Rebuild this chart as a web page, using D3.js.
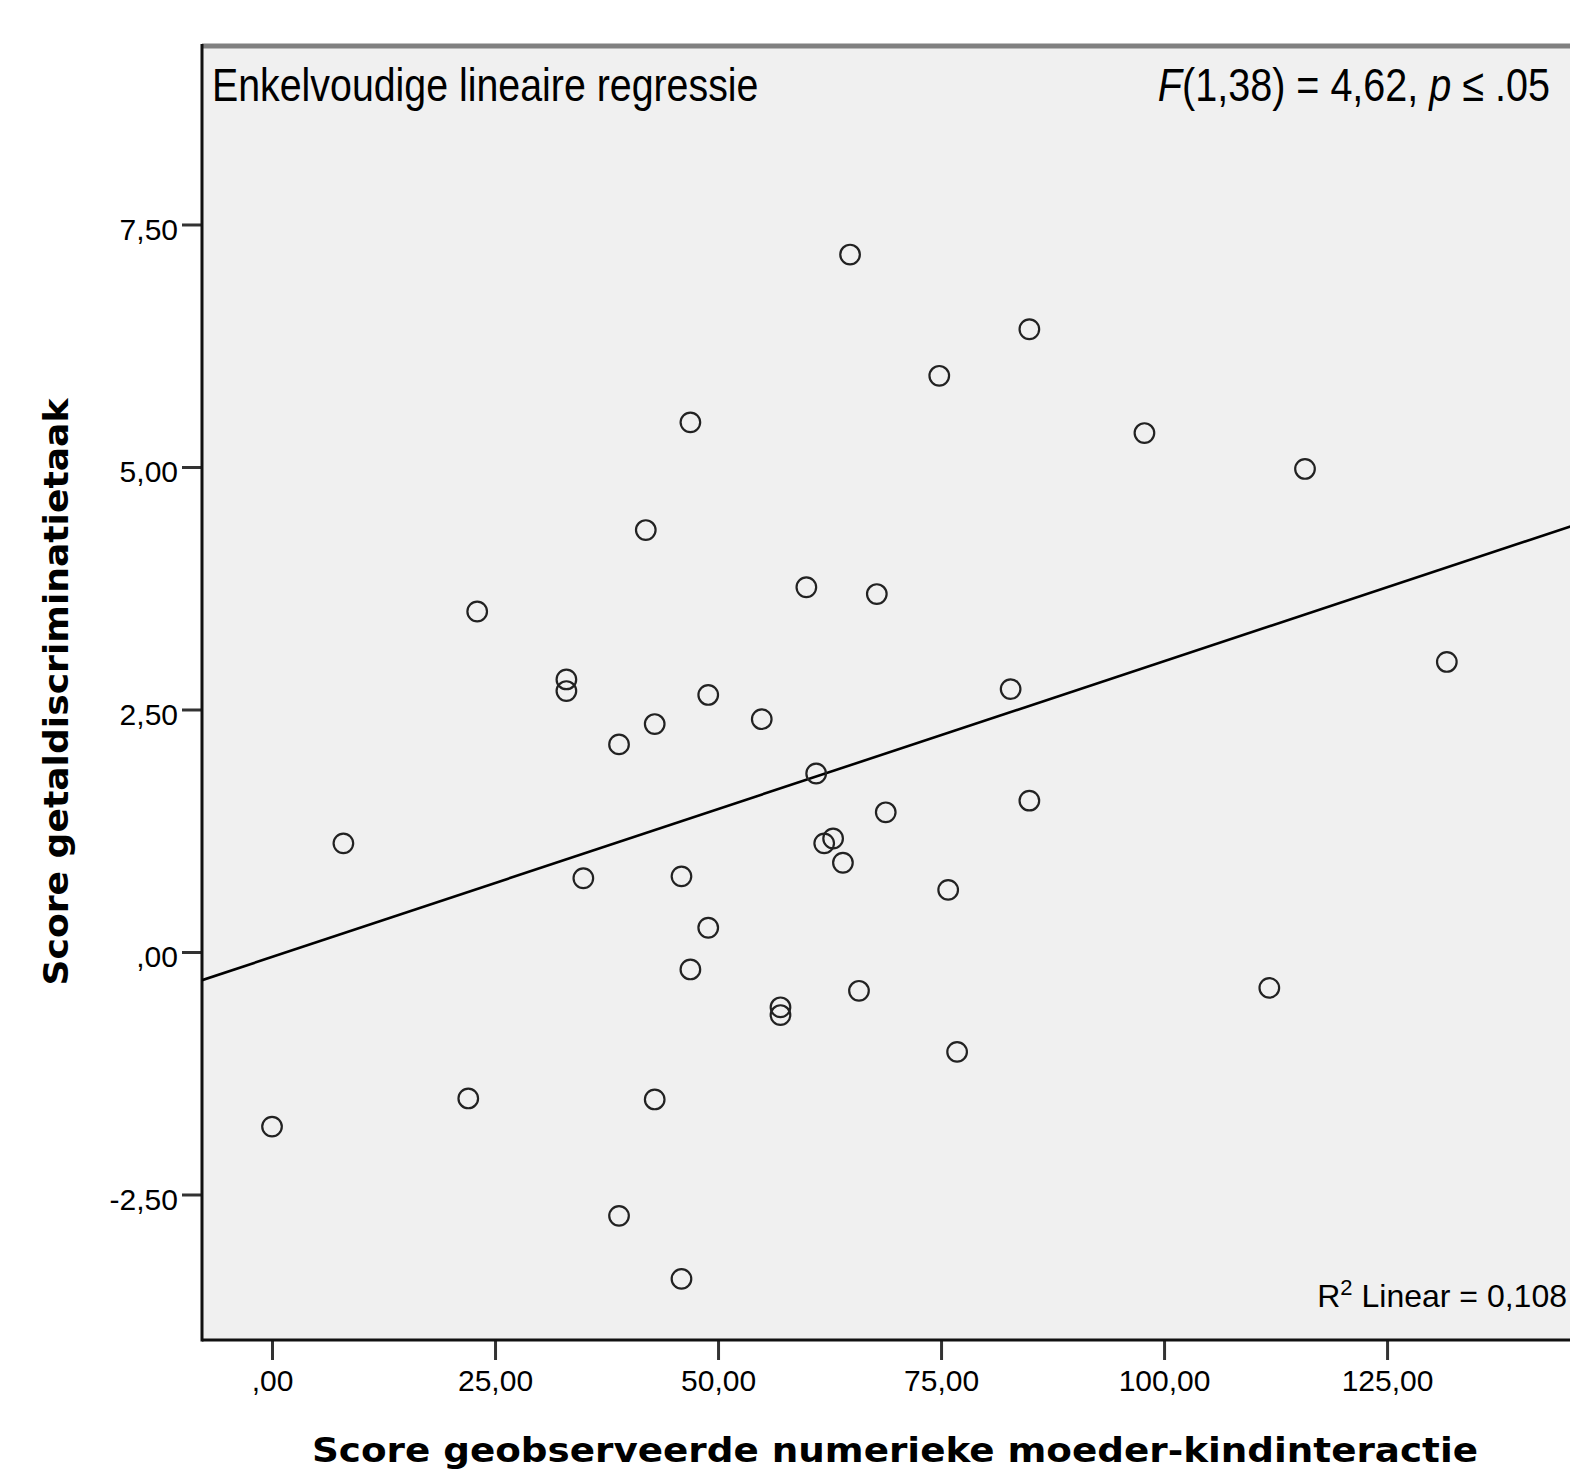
<!DOCTYPE html>
<html>
<head>
<meta charset="utf-8">
<script src="https://cdn.jsdelivr.net/npm/d3@7"></script>
<style>
  body { margin: 0; background: #fff; }
  svg { display: block; }
  .tickLabel { font-family: "Liberation Sans", Arial, sans-serif; font-size: 30px; fill: #000; }
  .axisTitle { font-family: "DejaVu Sans", Verdana, sans-serif; font-weight: bold; font-size: 34px; fill: #000; }
  .note { font-family: "Liberation Sans", Arial, sans-serif; fill: #000; }
</style>
</head>
<body>
<script>
// data
const motherChildScore = [64.8, 84.9, 74.8, 46.9, 97.8, 115.8, 41.9, 59.9, 67.8, 23.0,
  131.7, 33.0, 33.0, 82.8, 48.9, 54.9, 42.9, 38.9, 61.0, 68.8,
  84.9, 8.0, 61.9, 62.9, 64.0, 34.9, 45.9, 75.8, 48.9, 46.9,
  65.8, 111.8, 57.0, 57.0, 76.8, 22.0, 42.9, 0.0, 38.9, 45.9];
const numberDiscScore = [7.19, 6.42, 5.94, 5.46, 5.35, 4.98, 4.35, 3.76, 3.69, 3.51,
  2.99, 2.81, 2.69, 2.71, 2.65, 2.40, 2.35, 2.14, 1.84, 1.44,
  1.56, 1.12, 1.12, 1.17, 0.92, 0.76, 0.78, 0.64, 0.25, -0.18,
  -0.40, -0.37, -0.57, -0.65, -1.03, -1.51, -1.52, -1.80, -2.72, -3.37];

const xTicks = [0, 25, 50, 75, 100, 125];
const xTickLabels = [",00", "25,00", "50,00", "75,00", "100,00", "125,00"];
const yTicks = [-2.5, 0, 2.5, 5, 7.5];
const yTickLabels = ["-2,50", ",00", "2,50", "5,00", "7,50"];

const titleText = "Enkelvoudige lineaire regressie";
const rSquareLabel = "0,108";

/********************************************************/
const svgWidth = 1570;
const svgHeight = 1474;
const plot = { left: 202, top: 46, right: 1590, bottom: 1340 };

const svg = d3.select("body").append("svg")
  .attr("width", svgWidth)
  .attr("height", svgHeight);

const xScale = d3.scaleLinear().domain([-7.85, 147.75]).range([plot.left, plot.right]);
const yScale = d3.scaleLinear().domain([-4.0, 9.34]).range([plot.bottom, plot.top]);

// plot background
svg.append("rect")
  .attr("x", plot.left)
  .attr("y", plot.top)
  .attr("width", plot.right - plot.left)
  .attr("height", plot.bottom - plot.top)
  .attr("fill", "#f0f0f0");

svg.append("clipPath").attr("id", "plotClip")
  .append("rect")
  .attr("x", plot.left)
  .attr("y", plot.top)
  .attr("width", plot.right - plot.left)
  .attr("height", plot.bottom - plot.top);

/********************************************************/
// axes
const leftAxis = d3.axisLeft(yScale)
  .tickValues(yTicks)
  .tickSize(20)
  .tickPadding(4)
  .tickFormat((d, i) => yTickLabels[i]);

const bottomAxis = d3.axisBottom(xScale)
  .tickValues(xTicks)
  .tickSize(20)
  .tickPadding(8)
  .tickFormat((d, i) => xTickLabels[i]);

const yAxisG = svg.append("g")
  .attr("transform", `translate(${plot.left}, 0)`)
  .call(leftAxis);
yAxisG.select(".domain").remove();
yAxisG.selectAll(".tick line").attr("stroke", "#333").attr("stroke-width", 3);
yAxisG.selectAll(".tick text")
  .attr("class", "tickLabel")
  .attr("dy", "0.5em");

const xAxisG = svg.append("g")
  .attr("transform", `translate(0, ${plot.bottom})`)
  .call(bottomAxis);
xAxisG.select(".domain").remove();
xAxisG.selectAll(".tick line").attr("stroke", "#333").attr("stroke-width", 3);
xAxisG.selectAll(".tick text")
  .attr("class", "tickLabel")
  .attr("dy", "0.75em");

// frame
svg.append("line")
  .attr("x1", plot.left).attr("x2", plot.right)
  .attr("y1", plot.top).attr("y2", plot.top)
  .attr("stroke", "#808080").attr("stroke-width", 5);
svg.append("line")
  .attr("x1", plot.left).attr("x2", plot.left)
  .attr("y1", plot.top - 2).attr("y2", plot.bottom + 1.5)
  .attr("stroke", "#111").attr("stroke-width", 3);
svg.append("line")
  .attr("x1", plot.left).attr("x2", plot.right)
  .attr("y1", plot.bottom).attr("y2", plot.bottom)
  .attr("stroke", "#111").attr("stroke-width", 3);

/********************************************************/
// regression line (least squares)
const n = motherChildScore.length;
const meanX = d3.mean(motherChildScore);
const meanY = d3.mean(numberDiscScore);
let sxy = 0, sxx = 0;
for (let i = 0; i < n; i++) {
  sxy += (motherChildScore[i] - meanX) * (numberDiscScore[i] - meanY);
  sxx += (motherChildScore[i] - meanX) ** 2;
}
const slope = sxy / sxx;
const intercept = meanY - slope * meanX;
const xDom = xScale.domain();

svg.append("g").attr("clip-path", "url(#plotClip)")
  .append("line")
  .attr("x1", xScale(xDom[0])).attr("y1", yScale(intercept + slope * xDom[0]))
  .attr("x2", xScale(xDom[1])).attr("y2", yScale(intercept + slope * xDom[1]))
  .attr("stroke", "#000")
  .attr("stroke-width", 2.6);

// points
svg.append("g")
  .selectAll("circle")
  .data(motherChildScore)
  .enter()
  .append("circle")
  .attr("cx", (d) => xScale(d))
  .attr("cy", (d, i) => yScale(numberDiscScore[i]))
  .attr("r", 9.8)
  .attr("fill", "none")
  .attr("stroke", "#222")
  .attr("stroke-width", 2.2);

/********************************************************/
// texts
svg.append("text")
  .attr("class", "note")
  .attr("font-size", "46px")
  .attr("transform", "translate(212, 101) scale(0.855, 1)")
  .text(titleText);

const fText = svg.append("text")
  .attr("class", "note")
  .attr("font-size", "46px")
  .attr("text-anchor", "end")
  .attr("transform", "translate(1550, 101) scale(0.86, 1)");
fText.append("tspan").attr("font-style", "italic").text("F");
fText.append("tspan").text("(1,38) = 4,62, ");
fText.append("tspan").attr("font-style", "italic").text("p");
fText.append("tspan").text(" \u2264 .05");

const rText = svg.append("text")
  .attr("class", "note")
  .attr("font-size", "32px")
  .attr("text-anchor", "end")
  .attr("x", 1567)
  .attr("y", 1307);
rText.append("tspan").text("R");
rText.append("tspan").attr("font-size", "22px").attr("dy", "-12").text("2");
rText.append("tspan").attr("dy", "12").text(" Linear = " + rSquareLabel);

svg.append("text")
  .attr("class", "axisTitle")
  .attr("text-anchor", "middle")
  .attr("x", 895)
  .attr("y", 1462)
  .attr("textLength", 1166)
  .attr("lengthAdjust", "spacingAndGlyphs")
  .text("Score geobserveerde numerieke moeder-kindinteractie");

svg.append("text")
  .attr("class", "axisTitle")
  .attr("text-anchor", "middle")
  .attr("transform", "translate(68, 692) rotate(-90)")
  .attr("textLength", 587)
  .attr("lengthAdjust", "spacingAndGlyphs")
  .text("Score getaldiscriminatietaak");
</script>
</body>
</html>
